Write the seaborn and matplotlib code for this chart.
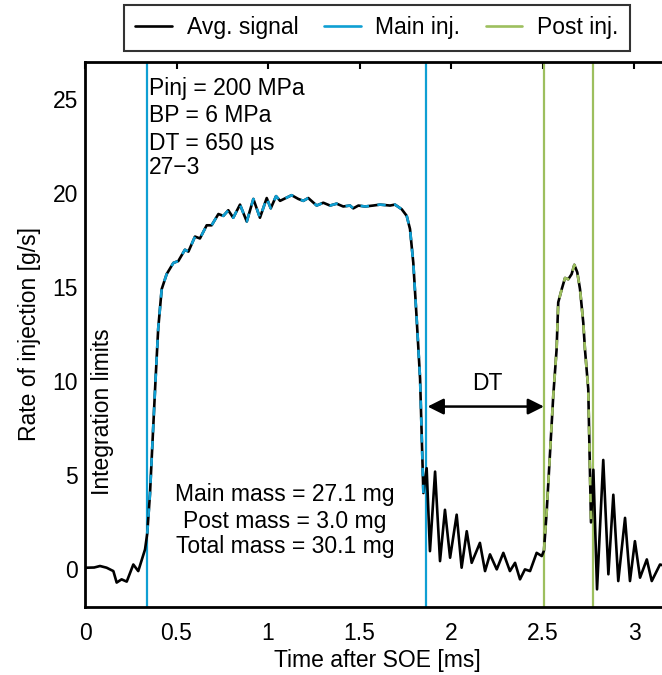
import matplotlib
matplotlib.use("Agg")
import matplotlib.pyplot as plt
from matplotlib.lines import Line2D
import seaborn as sns
import pandas as pd

# ---- data ----
time_ms = [0.0, 0.009, 0.05, 0.082, 0.118, 0.155, 0.173, 0.2, 0.228, 0.264, 0.291, 0.328,
           0.34, 0.355, 0.37, 0.385, 0.40, 0.419, 0.446, 0.483, 0.51, 0.546, 0.565, 0.601,
           0.628, 0.665, 0.692, 0.729, 0.756, 0.783, 0.81, 0.847, 0.884, 0.92, 0.956, 0.993,
           1.015, 1.044, 1.066, 1.129, 1.166, 1.193, 1.22, 1.266, 1.302, 1.339, 1.375, 1.411,
           1.448, 1.466, 1.494, 1.53, 1.575, 1.612, 1.667, 1.694, 1.731, 1.758, 1.776, 1.794,
           1.812, 1.831, 1.849, 1.867, 1.885, 1.913, 1.94, 1.967, 1.995, 2.031, 2.058, 2.086,
           2.113, 2.158, 2.186, 2.213, 2.25, 2.286, 2.322, 2.35, 2.377, 2.404, 2.432, 2.468,
           2.496, 2.508, 2.523, 2.54, 2.559, 2.577, 2.586, 2.605, 2.623, 2.641, 2.659, 2.674,
           2.69, 2.705, 2.723, 2.732, 2.75, 2.765, 2.778, 2.798, 2.832, 2.86, 2.887, 2.914,
           2.951, 2.978, 3.005, 3.033, 3.07, 3.097, 3.142, 3.2]
rate_gs = [0.05, 0.09, 0.1, 0.18, 0.09, -0.09, -0.7, -0.53, -0.65, 0.26, -0.09, 1.06,
           1.9, 4.0, 7.0, 10.0, 12.8, 14.9, 15.7, 16.3, 16.4, 17.0, 16.9, 17.7,
           17.6, 18.3, 18.3, 18.9, 18.8, 19.1, 18.7, 19.4, 18.5, 19.7, 18.7, 19.75,
           19.2, 19.85, 19.6, 19.9, 19.7, 19.6, 19.75, 19.35, 19.5, 19.35, 19.45, 19.3,
           19.35, 19.2, 19.35, 19.3, 19.35, 19.4, 19.35, 19.4, 19.15, 18.8, 18.1, 16.3,
           13.4, 10.15, 4.06, 5.38, 0.97, 5.2, 0.44, 3.17, 0.62, 2.91, 0.09, 2.03,
           0.35, 1.41, -0.09, 0.8, 0.0, 0.88, -0.09, 0.35, -0.53, 0.0, -0.09, 0.88,
           0.71, 1.0, 3.09, 6.0, 9.26, 11.7, 14.2, 14.9, 15.5, 15.43, 15.7, 16.2,
           15.8, 14.9, 13.1, 11.7, 9.6, 2.5, 5.3, -1.06, 5.82, -0.26, 3.97, -0.62,
           2.74, -0.62, 1.5, -0.44, 0.53, -0.62, 0.26, 0.1]

main_limits = [0.34, 1.862]
post_limits = [2.508, 2.774]

info_lines = ["Pinj = 200 MPa", "BP = 6 MPa", "DT = 650 \u00b5s", "27\u22123"]
mass_lines = ["Main mass = 27.1 mg", "Post mass = 3.0 mg", "Total mass = 30.1 mg"]

x_ticks = [0, 0.5, 1, 1.5, 2, 2.5, 3]
x_tick_labels = ["0", "0.5", "1", "1.5", "2", "2.5", "3"]
y_ticks = [0, 5, 10, 15, 20, 25]

BLUE = "#0f9fd3"
GREEN = "#9dbf5e"
FS = 16.5

sns.set_theme(style="white")
plt.rcParams["font.family"] = ["Liberation Sans", "DejaVu Sans"]
plt.rcParams["text.color"] = "black"
plt.rcParams["axes.labelcolor"] = "black"
plt.rcParams["xtick.color"] = "black"
plt.rcParams["ytick.color"] = "black"

df = pd.DataFrame({"t": time_ms, "r": rate_gs})
df_main = df[(df.t >= main_limits[0]) & (df.t <= main_limits[1])]
df_post = df[(df.t >= post_limits[0]) & (df.t <= post_limits[1])]

fig = plt.figure(figsize=(6.62, 6.75), dpi=100)
ax = fig.add_axes([85 / 662, 1 - 607 / 675, 585.6 / 662, (607 - 61.7) / 675])

sns.lineplot(data=df, x="t", y="r", ax=ax, color="black", lw=1.9, sort=False,
             estimator=None)
sns.lineplot(data=df_main, x="t", y="r", ax=ax, color=BLUE, lw=1.9, sort=False,
             estimator=None)
sns.lineplot(data=df_post, x="t", y="r", ax=ax, color=GREEN, lw=1.9, sort=False,
             estimator=None)
for ln in ax.lines[1:]:
    ln.set_dashes([3.2, 3.2])

for xv in main_limits:
    ax.axvline(xv, color=BLUE, lw=1.6, zorder=1)
for xv in post_limits:
    ax.axvline(xv, color=GREEN, lw=1.6, zorder=1)

ax.set_xlim(0, 3.2)
ax.set_ylim(-2, 27)
ax.set_xticks(x_ticks)
ax.set_xticklabels(x_tick_labels)
ax.set_yticks(y_ticks)
ax.tick_params(direction="in", length=5, width=1.5, labelsize=FS, colors="black",
               top=True, right=True)
ax.tick_params(axis="x", pad=11)
ax.tick_params(axis="y", pad=5)
for s in ax.spines.values():
    s.set_linewidth(2)
    s.set_color("black")

ax.set_xlabel("Time after SOE [ms]", fontsize=FS, labelpad=3)
ax.set_ylabel("Rate of injection [g/s]", fontsize=FS, labelpad=8)

info_y = [25.57, 24.16, 22.67, 21.36]
for txt, yv in zip(info_lines, info_y):
    ax.text(0.35, yv, txt, fontsize=FS, ha="left", va="center")

mass_y = [3.97, 2.56, 1.24]
for txt, yv in zip(mass_lines, mass_y):
    ax.text(1.093, yv, txt, fontsize=FS, ha="center", va="center")

ax.text(0.098, 8.4, "Integration limits", fontsize=FS, rotation=90,
        ha="center", va="center")

ax.annotate("", xy=(1.872, 8.66), xytext=(post_limits[0], 8.66),
            arrowprops=dict(arrowstyle="<|-|>", color="black", lw=1.8,
                            mutation_scale=24, shrinkA=0, shrinkB=0))
ax.text(2.197, 9.87, "DT", fontsize=FS, ha="center", va="center")

handles = [Line2D([], [], color="black", lw=1.9),
           Line2D([], [], color=BLUE, lw=1.9),
           Line2D([], [], color=GREEN, lw=1.9)]
leg = fig.legend(handles, ["Avg. signal", "Main inj.", "Post inj."], ncol=3,
                 loc="upper center", bbox_to_anchor=(377 / 662, 1 - 5 / 675),
                 fontsize=FS, frameon=True, fancybox=False, edgecolor="black",
                 handlelength=1.6, columnspacing=1.1, borderpad=0.5,
                 handletextpad=0.65, borderaxespad=0)
leg.get_frame().set_linewidth(1.5)

fig.savefig("out.png", dpi=100)
